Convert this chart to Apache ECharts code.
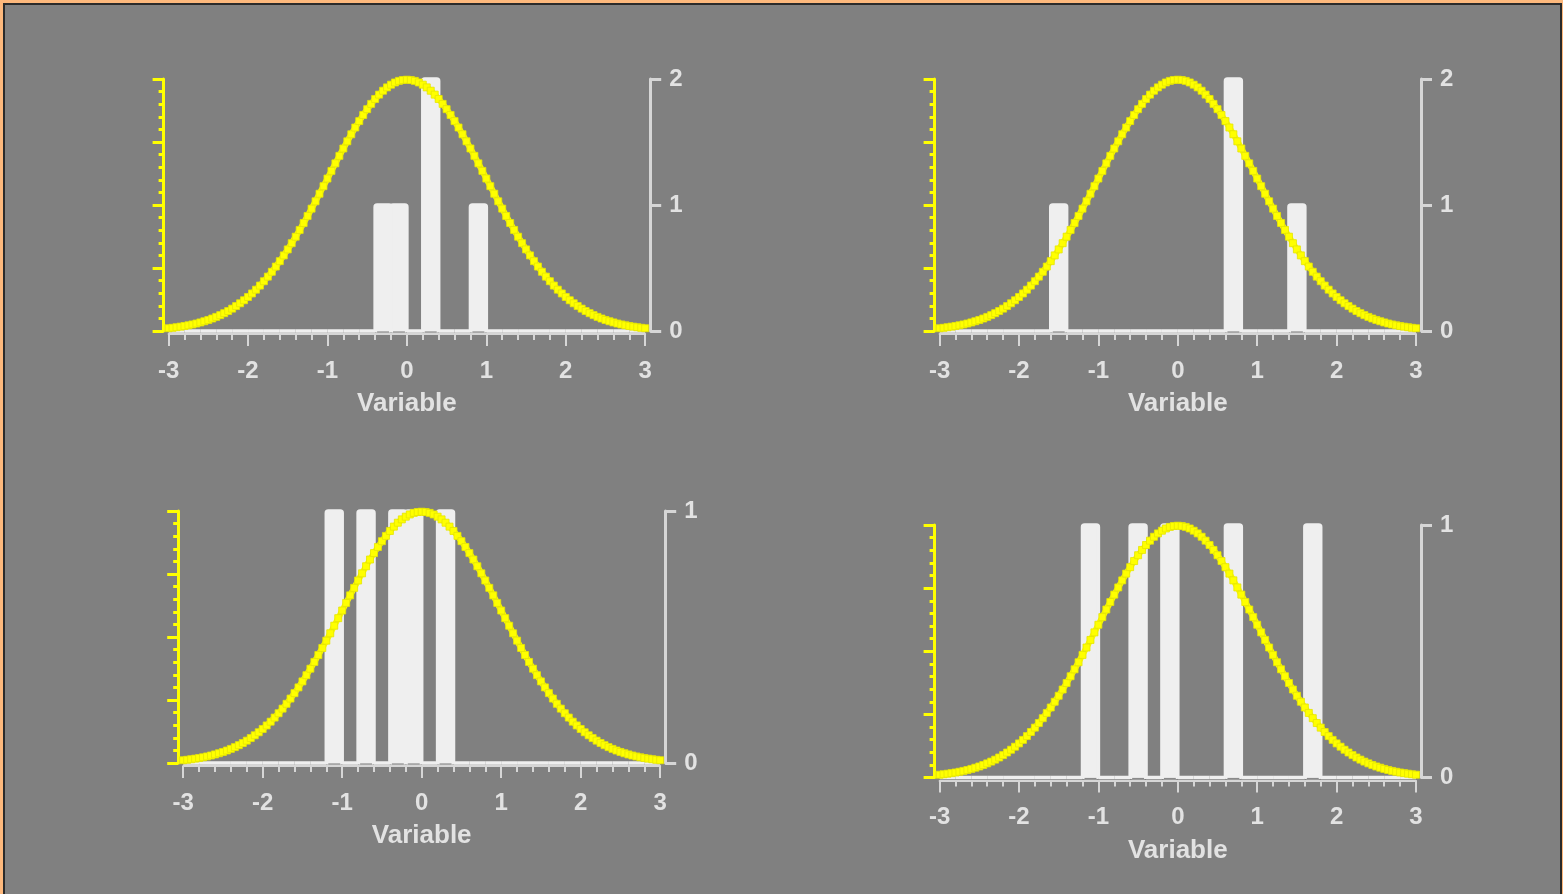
<!DOCTYPE html>
<html>
<head>
<meta charset="utf-8">
<script src="https://cdn.jsdelivr.net/npm/echarts@6/dist/echarts.min.js"></script>
<style>
  html, body { margin: 0; padding: 0; width: 1563px; height: 894px; overflow: hidden; background: #FDB87C; }
  #frame { position: absolute; left: 3px; top: 3px; width: 1555px; height: 1000px; border: 2px solid #2a2a2a; background: #808080; }
  #chart { position: absolute; left: 0; top: 0; width: 1563px; height: 894px; }
</style>
</head>
<body>
<div id="frame"></div>
<div id="chart"></div>
<script>
// ---------- data ----------
const binStarts = [-3.0, -2.8, -2.6, -2.4, -2.2, -2.0, -1.8, -1.6, -1.4, -1.2,
                   -1.0, -0.8, -0.6, -0.4, -0.2, 0.0, 0.2, 0.4, 0.6, 0.8,
                   1.0, 1.2, 1.4, 1.6, 1.8, 2.0, 2.2, 2.4, 2.6, 2.8];
const binWidth = 0.2;

const countsTopLeft     = [0,0,0,0,0,0,0,0,0,0, 0,0,0,1,1,0,2,0,0,1, 0,0,0,0,0,0,0,0,0,0];
const countsTopRight    = [0,0,0,0,0,0,0,1,0,0, 0,0,0,0,0,0,0,0,2,0, 0,0,1,0,0,0,0,0,0,0];
const countsBottomLeft  = [0,0,0,0,0,0,0,0,0,1, 0,1,0,1,1,0,1,0,0,0, 0,0,0,0,0,0,0,0,0,0];
const countsBottomRight = [0,0,0,0,0,0,0,0,0,1, 0,0,1,0,1,0,0,0,1,0, 0,0,0,1,0,0,0,0,0,0];

// normal density curve (x, density)
const curveX = [-3.00,-2.95,-2.90,-2.85,-2.80,-2.75,-2.70,-2.65,-2.60,-2.55,-2.50,-2.45,-2.40,-2.35,-2.30,-2.25,-2.20,-2.15,-2.10,-2.05,
  -2.00,-1.95,-1.90,-1.85,-1.80,-1.75,-1.70,-1.65,-1.60,-1.55,-1.50,-1.45,-1.40,-1.35,-1.30,-1.25,-1.20,-1.15,-1.10,-1.05,
  -1.00,-0.95,-0.90,-0.85,-0.80,-0.75,-0.70,-0.65,-0.60,-0.55,-0.50,-0.45,-0.40,-0.35,-0.30,-0.25,-0.20,-0.15,-0.10,-0.05,
  0.00,0.05,0.10,0.15,0.20,0.25,0.30,0.35,0.40,0.45,0.50,0.55,0.60,0.65,0.70,0.75,0.80,0.85,0.90,0.95,
  1.00,1.05,1.10,1.15,1.20,1.25,1.30,1.35,1.40,1.45,1.50,1.55,1.60,1.65,1.70,1.75,1.80,1.85,1.90,1.95,
  2.00,2.05,2.10,2.15,2.20,2.25,2.30,2.35,2.40,2.45,2.50,2.55,2.60,2.65,2.70,2.75,2.80,2.85,2.90,2.95,3.00];
const curveY = [0.0044,0.0051,0.0060,0.0069,0.0079,0.0091,0.0104,0.0119,0.0136,0.0155,0.0175,0.0198,0.0224,0.0252,0.0283,0.0317,0.0355,0.0396,0.0440,0.0488,
  0.0540,0.0596,0.0656,0.0721,0.0790,0.0863,0.0940,0.1023,0.1109,0.1200,0.1295,0.1394,0.1497,0.1604,0.1714,0.1826,0.1942,0.2059,0.2179,0.2299,
  0.2420,0.2541,0.2661,0.2780,0.2897,0.3011,0.3123,0.3230,0.3332,0.3429,0.3521,0.3605,0.3683,0.3752,0.3814,0.3867,0.3910,0.3945,0.3970,0.3984,
  0.3989,0.3984,0.3970,0.3945,0.3910,0.3867,0.3814,0.3752,0.3683,0.3605,0.3521,0.3429,0.3332,0.3230,0.3123,0.3011,0.2897,0.2780,0.2661,0.2541,
  0.2420,0.2299,0.2179,0.2059,0.1942,0.1826,0.1714,0.1604,0.1497,0.1394,0.1295,0.1200,0.1109,0.1023,0.0940,0.0863,0.0790,0.0721,0.0656,0.0596,
  0.0540,0.0488,0.0440,0.0396,0.0355,0.0317,0.0283,0.0252,0.0224,0.0198,0.0175,0.0155,0.0136,0.0119,0.0104,0.0091,0.0079,0.0069,0.0060,0.0051,0.0044];

const xTickLabels = ['-3', '-2', '-1', '0', '1', '2', '3'];
const xAxisTitle = 'Variable';
const countMaxes = [2, 2, 1, 1];
const densityMax = 0.4;

// ---------- layout ----------
const panels = [
  { counts: countsTopLeft,     grid: { left: 168.6, top: 79,  width: 476.6, height: 252 } },
  { counts: countsTopRight,    grid: { left: 939.6, top: 79,  width: 476.4, height: 252 } },
  { counts: countsBottomLeft,  grid: { left: 183.2, top: 511, width: 477,   height: 252 } },
  { counts: countsBottomRight, grid: { left: 939.6, top: 525, width: 476.4, height: 252.5 } }
];

const LABEL = '#e2e2e2';
const AXIS = '#d6d6d6';
const BAR = '#efefef';
const YELLOW = '#ffff00';
const FONT = '"Liberation Sans", Arial, sans-serif';

const grid = [], xAxis = [], yAxis = [], series = [];
panels.forEach((p, i) => {
  grid.push(Object.assign({ containLabel: false }, p.grid));
  xAxis.push({
    type: 'value', gridIndex: i, min: -3, max: 3, interval: 1, offset: 3,
    axisLine: { show: true, onZero: false, lineStyle: { color: AXIS, width: 2 } },
    axisTick: { show: true, length: 12, lineStyle: { color: AXIS, width: 2 } },
    minorTick: { show: true, splitNumber: 5, length: 6, lineStyle: { color: AXIS, width: 2 } },
    splitLine: { show: false }, minorSplitLine: { show: false },
    axisLabel: { color: LABEL, fontSize: 24, fontWeight: 'bold', fontFamily: FONT, margin: 25,
      formatter: v => xTickLabels[Math.round(v) + 3] },
    name: xAxisTitle, nameLocation: 'middle', nameGap: 57,
    nameTextStyle: { color: LABEL, fontSize: 26, fontWeight: 'bold', fontFamily: FONT }
  });
  // left density axis (yellow, no labels)
  yAxis.push({
    type: 'value', gridIndex: i, position: 'left', offset: 5, min: 0, max: densityMax, interval: 0.1,
    axisLine: { show: true, onZero: false, lineStyle: { color: YELLOW, width: 3 } },
    axisTick: { show: true, length: 11, lineStyle: { color: YELLOW, width: 3 } },
    minorTick: { show: true, splitNumber: 5, length: 5, lineStyle: { color: YELLOW, width: 3 } },
    axisLabel: { show: false }, splitLine: { show: false }, minorSplitLine: { show: false }
  });
  // right count axis
  yAxis.push({
    type: 'value', gridIndex: i, position: 'right', offset: 5, min: 0, max: countMaxes[i], interval: 1,
    axisLine: { show: true, onZero: false, lineStyle: { color: AXIS, width: 3 } },
    axisTick: { show: true, length: 11, lineStyle: { color: AXIS, width: 3 } },
    axisLabel: { color: LABEL, fontSize: 24, fontWeight: 'bold', fontFamily: FONT, margin: 19 },
    splitLine: { show: false }
  });

  const barData = binStarts.map((s, k) => [s, s + binWidth, p.counts[k]]);
  series.push({
    type: 'custom', xAxisIndex: i, yAxisIndex: 2 * i + 1, z: 2, silent: true,
    data: barData,
    encode: { x: [0, 1], y: 2 },
    renderItem: (params, api) => {
      const a = api.coord([api.value(0), api.value(2)]);
      const b = api.coord([api.value(1), 0]);
      const rect = { x: a[0], y: a[1], width: b[0] - a[0], height: b[1] - a[1] };
      const children = [{
        type: 'rect', shape: Object.assign({ r: 2 }, rect),
        style: { fill: BAR, stroke: BAR, lineWidth: 3.5 }
      }];
      if (api.value(2) > 0) {
        children.push({
          type: 'line', shape: { x1: a[0] + 2, y1: b[1] + 1, x2: b[0] - 2, y2: b[1] + 1 },
          style: { stroke: '#8a8a8a', lineWidth: 1.2 }
        });
      }
      return { type: 'group', children };
    }
  });
  series.push({
    type: 'line', xAxisIndex: i, yAxisIndex: 2 * i, z: 5, silent: true,
    data: curveX.map((x, k) => [x, curveY[k]]),
    showSymbol: true, symbol: 'rect', symbolSize: 7,
    lineStyle: { color: YELLOW, width: 6 },
    itemStyle: { color: YELLOW, borderColor: '#e4e400', borderWidth: 0.8 },
    clip: false, animation: false
  });
});

const chart = echarts.init(document.getElementById('chart'), null, { renderer: 'canvas' });
chart.setOption({
  backgroundColor: 'transparent',
  animation: false,
  textStyle: { fontFamily: FONT },
  grid, xAxis, yAxis, series
});
</script>
</body>
</html>
